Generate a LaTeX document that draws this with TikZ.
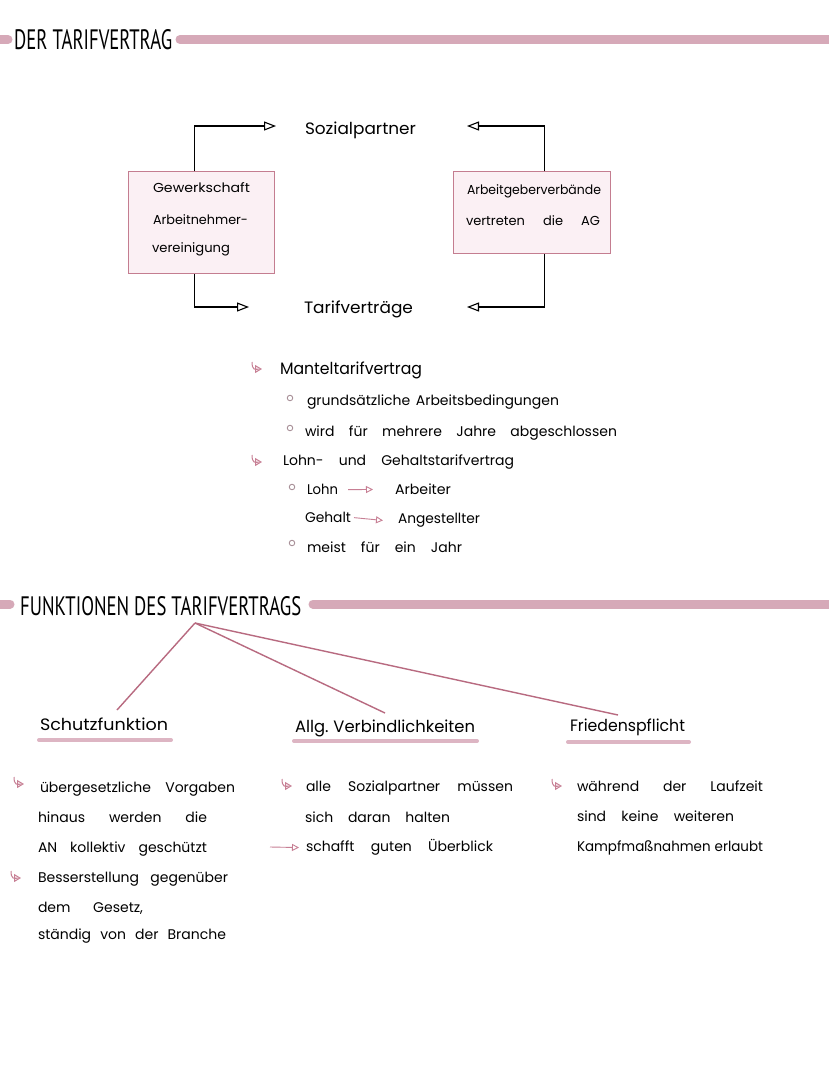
\documentclass[tikz,border=0pt]{standalone}
\usepackage{fontspec}
\usepackage{graphicx}
\setmainfont{Poppins}
\newfontfamily\headfont{PT Sans}
\usetikzlibrary{arrows.meta}
\definecolor{barc}{HTML}{D6A9B8}
\definecolor{boxc}{HTML}{C47D90}
\definecolor{boxfill}{HTML}{FBF0F4}
\definecolor{linec}{HTML}{B86A80}
\definecolor{bulc}{HTML}{C77F94}
\definecolor{dotc}{HTML}{A89098}
\definecolor{ulc}{HTML}{DDB5C3}
\newsavebox\swbox
\newcommand\sw[2]{\sbox\swbox{\spaceskip=.3em\xspaceskip=.3em\relax #2}%
 \ifdim\wd\swbox>#1pt \resizebox{#1pt}{\height}{\usebox\swbox}%
 \else\hbox to #1pt{\spaceskip=.3em plus 1fil\xspaceskip=.3em plus 1fil\relax #2}\fi}
\newcommand\rw[2]{\resizebox{#1pt}{\height}{#2}}
\tikzset{
 txt/.style={anchor=mid west, inner sep=0pt, outer sep=0pt, font=\fontsize{14}{16}\selectfont},
 boxt/.style={txt, font=\fontsize{13}{15}\selectfont},
 big/.style={txt, font=\fontsize{16.5}{18}\selectfont},
 box/.style={draw=boxc, fill=boxfill, line width=1.3pt, inner sep=0pt},
 conn/.style={draw=black, line width=1.1pt, -{Triangle[open, length=12pt, width=9pt, line width=1.1pt]}},
 bar/.style={draw=barc, line width=9pt, line cap=round},
 fline/.style={draw=linec, line width=1.4pt},
 uline/.style={draw=ulc, line width=4pt, line cap=round},
 dotb/.style={circle, draw=dotc, line width=0.9pt, inner sep=0pt, minimum size=5.5pt},
 hook/.pic={\draw[bulc, line width=1pt, -{Triangle[open,length=7pt,width=8pt,line width=1pt]}] (0,-5) .. controls (0,3) and (3,3) .. (7,2) -- (10,2);},
 inarr/.style={draw=bulc, line width=0.9pt, -{Triangle[open,length=7pt,width=7pt,line width=0.9pt]}},
 head/.style={anchor=west, inner sep=0pt},
}
\begin{document}
\begin{tikzpicture}[x=1pt,y=-1pt]
\fill[white] (0,0) rectangle (828,1069);
\useasboundingbox (0,0) rectangle (828,1069);

% header 1
\draw[bar] (-5,39.5) -- (8,39.5);
\draw[bar] (180,39.5) -- (840,39.5);
\node[head] (h1) at (14,40) {\resizebox{158pt}{20pt}{\headfont DER TARIFVERTRAG}};

% boxes
\node[box, minimum width=146pt, minimum height=102pt, anchor=north west] (gw) at (128,171) {};
\node[box, minimum width=157pt, minimum height=82pt, anchor=north west] (ag) at (453,171) {};
\node[boxt] (gw1) at (153,190) {\rw{97}{Gewerkschaft}};
\node[boxt] (gw2) at (153,222) {\rw{95}{Arbeitnehmer-}};
\node[boxt] (gw3) at (152,250) {\rw{78}{vereinigung}};
\node[boxt] (ag1) at (467,192) {\rw{134}{Arbeitgeberverbände}};
\node[boxt] (ag2) at (466,223) {\sw{134}{vertreten die AG}};

\node[big] (soz) at (305,132) {\rw{111}{Sozialpartner}};
\node[big] (tar) at (304,311) {\rw{109}{Tarifverträge}};

\coordinate (t1) at (276,126);
\coordinate (t2) at (249,307);
\coordinate (t3) at (467,126);
\coordinate (t4) at (467,307);
\draw[conn] ([xshift=-7pt]gw.north) |- (t1);
\draw[conn] ([xshift=-7pt]gw.south) |- (t2);
\draw[conn] ([xshift=12.5pt]ag.north) |- (t3);
\draw[conn] ([xshift=12.5pt]ag.south) |- (t4);

% list
\pic at (252,367) {hook};
\node[big] (mt) at (280,372) {\rw{142}{Manteltarifvertrag}};
\node[dotb] (d1) at (290,398) {};
\node[txt] (mt1) at (307,403) {\sw{252}{grundsätzliche Arbeitsbedingungen}};
\node[dotb] (d2) at (290,428) {};
\node[txt] (mt2) at (305,434) {\sw{312}{wird für mehrere Jahre abgeschlossen}};
\pic at (252,460) {hook};
\node[txt] (lg) at (283,463) {\sw{231}{Lohn- und Gehaltstarifvertrag}};
\node[dotb] (d3) at (292,487) {};
\node[txt] (lohn) at (307,492) {\rw{31}{Lohn}};
\node[txt] (arb) at (395,492) {\rw{56}{Arbeiter}};
\draw[inarr] ([xshift=10pt]lohn.east) -- ([xshift=-22pt]arb.west);
\node[txt] (geh) at (305,520) {\rw{46}{Gehalt}};
\node[txt] (ang) at (398,521) {\rw{82}{Angestellter}};
\draw[inarr] ([xshift=3pt]geh.east) -- ([xshift=-15pt]ang.west);
\node[dotb] (d4) at (292,543) {};
\node[txt] (mj) at (307,550) {\sw{155}{meist für ein Jahr}};

% header 2
\draw[bar] (-5,604) -- (10,604);
\draw[bar] (313,604) -- (840,604);
\node[head] (h2) at (20,606) {\resizebox{281pt}{19pt}{\headfont FUNKTIONEN DES TARIFVERTRAGS}};

\node[big] (sf) at (40,728) {\rw{128}{Schutzfunktion}};
\node[big] (av) at (295,730) {\sw{180}{Allg. Verbindlichkeiten}};
\node[big] (fp) at (570,729) {\rw{115}{Friedenspflicht}};
\draw[uline] (39,740) -- (171,740);
\draw[uline] (294,741) -- (477,741);
\draw[uline] (568,742) -- (689,742);

\coordinate (root) at (195,623);
\coordinate (f1) at (117,710);
\coordinate (f2) at (385,713);
\coordinate (f3) at (618,715);
\draw[fline] (root) -- (f1);
\draw[fline] (root) -- (f2);
\draw[fline] (root) -- (f3);

% left column
\pic at (14,782) {hook};
\node[txt] (l1) at (40,790) {\sw{195}{übergesetzliche Vorgaben}};
\node[txt] (l2) at (38,820) {\sw{169}{hinaus werden die}};
\node[txt] (l3) at (38,850) {\sw{169}{AN kollektiv geschützt}};
\pic at (11,876) {hook};
\node[txt] (l4) at (38,880) {\sw{190}{Besserstellung gegenüber}};
\node[txt] (l5) at (38,910) {\sw{105}{dem Gesetz,}};
\node[txt] (l6) at (38,937) {\sw{188}{ständig von der Branche}};

% middle column
\pic at (282,784) {hook};
\node[txt] (m1) at (306,789) {\sw{207}{alle Sozialpartner müssen}};
\node[txt] (m2) at (305,820) {\sw{145}{sich daran halten}};
\node[txt] (m3) at (306,849) {\sw{187}{schafft guten Überblick}};
\coordinate (ms) at (270,847);
\draw[inarr] (ms) -- ([xshift=-7pt]m3.west);

% right column
\pic at (552,784) {hook};
\node[txt] (r1) at (577,789) {\sw{186}{während der Laufzeit}};
\node[txt] (r2) at (577,819) {\sw{157}{sind keine weiteren}};
\node[txt] (r3) at (577,849) {\sw{186}{Kampfmaßnahmen erlaubt}};
\end{tikzpicture}
\end{document}
